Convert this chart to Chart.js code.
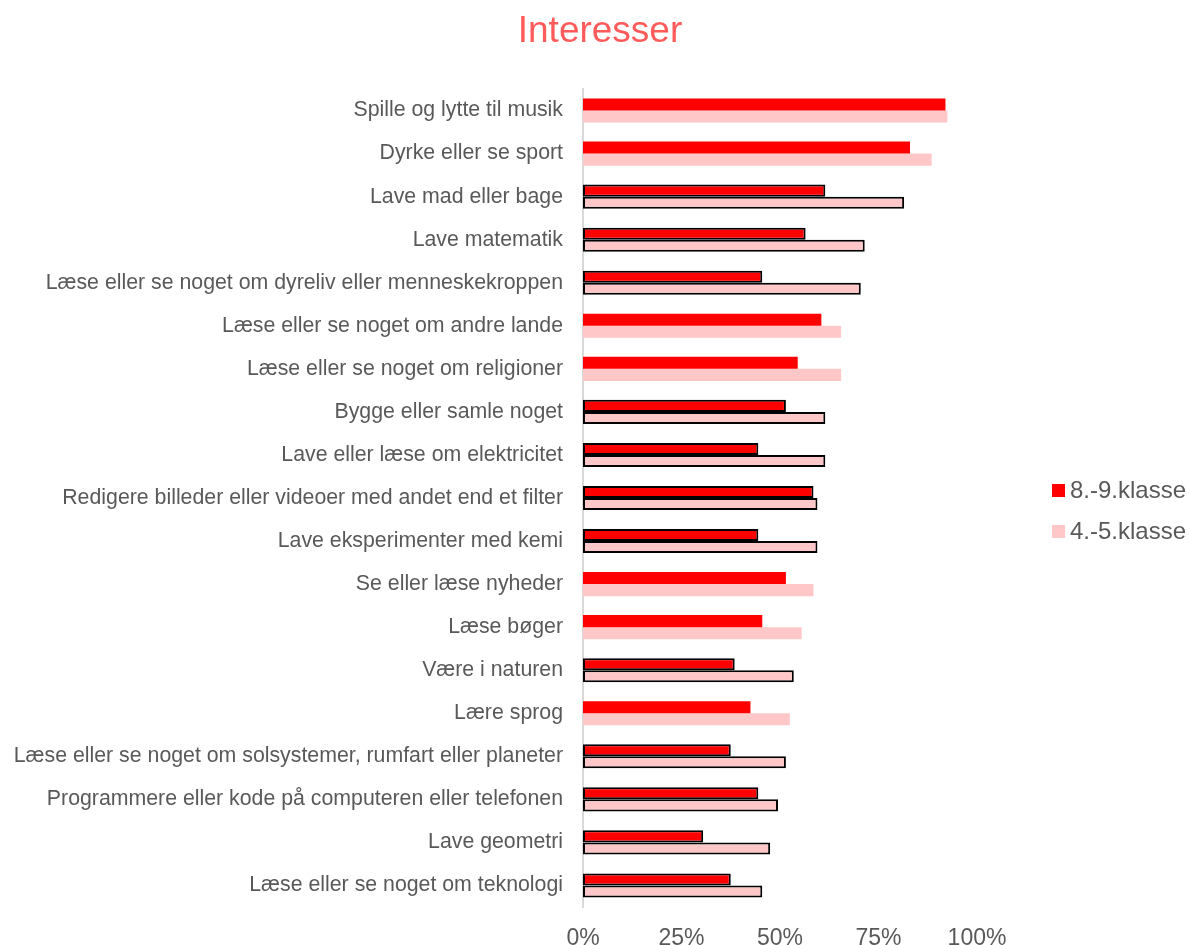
<!DOCTYPE html>
<html>
<head>
<meta charset="utf-8">
<script src="https://cdn.jsdelivr.net/npm/chart.js@4/dist/chart.umd.min.js"></script>
<style>
  html, body { margin: 0; padding: 0; background: #fff; }
  #wrap { width: 1189px; height: 945px; position: relative; }
</style>
</head>
<body>
<div id="wrap"><canvas id="c" width="1189" height="945"></canvas></div>
<script>
const categories = [
  "Spille og lytte til musik",
  "Dyrke eller se sport",
  "Lave mad eller bage",
  "Lave matematik",
  "Læse eller se noget om dyreliv eller menneskekroppen",
  "Læse eller se noget om andre lande",
  "Læse eller se noget om religioner",
  "Bygge eller samle noget",
  "Lave eller læse om elektricitet",
  "Redigere billeder eller videoer med andet end et filter",
  "Lave eksperimenter med kemi",
  "Se eller læse nyheder",
  "Læse bøger",
  "Være i naturen",
  "Lære sprog",
  "Læse eller se noget om solsystemer, rumfart eller planeter",
  "Programmere eller kode på computeren eller telefonen",
  "Lave geometri",
  "Læse eller se noget om teknologi"
];
const series8to9 = [0.92, 0.83, 0.615, 0.565, 0.455, 0.605, 0.545, 0.515, 0.445, 0.585, 0.445, 0.515, 0.455, 0.385, 0.425, 0.375, 0.445, 0.305, 0.375];
const series4to5 = [0.925, 0.885, 0.815, 0.715, 0.705, 0.655, 0.655, 0.615, 0.615, 0.595, 0.595, 0.585, 0.555, 0.535, 0.525, 0.515, 0.495, 0.475, 0.455];
const outlined = [false, false, true, true, true, false, false, true, true, true, true, false, false, true, false, true, true, true, true];
const seriesNames = ["8.-9.klasse", "4.-5.klasse"];
const chartTitle = "Interesser";
const xTicks = [0, 0.25, 0.5, 0.75, 1];

const colors = ["#FF0000", "#FFC7C7"];
const FONT = "'Liberation Sans', Arial, sans-serif";
const GREY = "#595959";

const decorPlugin = {
  id: 'decor',
  afterDraw(chart) {
    const ctx = chart.ctx;
    ctx.save();
    // title
    ctx.font = "37px " + FONT;
    ctx.fillStyle = "#FF5B5B";
    ctx.textAlign = "center";
    ctx.textBaseline = "middle";
    ctx.fillText(chartTitle, 600, 32);
    // legend
    ctx.textAlign = "left";
    ctx.font = "24px " + FONT;
    const ys = [490, 531];
    seriesNames.forEach((name, i) => {
      ctx.fillStyle = colors[i];
      ctx.fillRect(1052, ys[i] - 6, 13, 13);
      ctx.fillStyle = GREY;
      ctx.fillText(name, 1070, ys[i] + 1);
    });
    ctx.restore();
  }
};

new Chart(document.getElementById('c'), {
  type: 'bar',
  data: {
    labels: categories,
    datasets: [
      {
        label: seriesNames[0],
        data: series8to9,
        backgroundColor: colors[0],
        borderColor: "#000",
        borderWidth: (c) => outlined[c.dataIndex] ? 2 : 0,
        borderSkipped: false,
        categoryPercentage: 0.56,
        barPercentage: 1.0
      },
      {
        label: seriesNames[1],
        data: series4to5,
        backgroundColor: colors[1],
        borderColor: "#000",
        borderWidth: (c) => outlined[c.dataIndex] ? 2 : 0,
        borderSkipped: false,
        categoryPercentage: 0.56,
        barPercentage: 1.0
      }
    ]
  },
  options: {
    indexAxis: 'y',
    responsive: false,
    animation: false,
    layout: { padding: { left: 0, right: 212, top: 89, bottom: 0 } },
    plugins: {
      legend: { display: false },
      tooltip: { enabled: false },
      title: { display: false }
    },
    scales: {
      x: {
        min: 0, max: 1,
        afterBuildTicks: (s) => { s.ticks = xTicks.map(v => ({ value: v })); },
        afterFit: (s) => { s.height = 38; },
        grid: { display: false, drawTicks: false },
        border: { display: false },
        ticks: {
          color: GREY,
          font: { family: FONT, size: 23 },
          padding: 18,
          callback: (v) => Math.round(v * 100) + "%"
        }
      },
      y: {
        afterFit: (s) => { s.width = 583; },
        grid: { display: false, drawTicks: false },
        border: { display: true, color: "#D9D9D9", width: 2 },
        ticks: {
          color: GREY,
          font: { family: FONT, size: 21.3 },
          padding: 20,
          autoSkip: false
        }
      }
    }
  },
  plugins: [decorPlugin]
});
</script>
</body>
</html>
